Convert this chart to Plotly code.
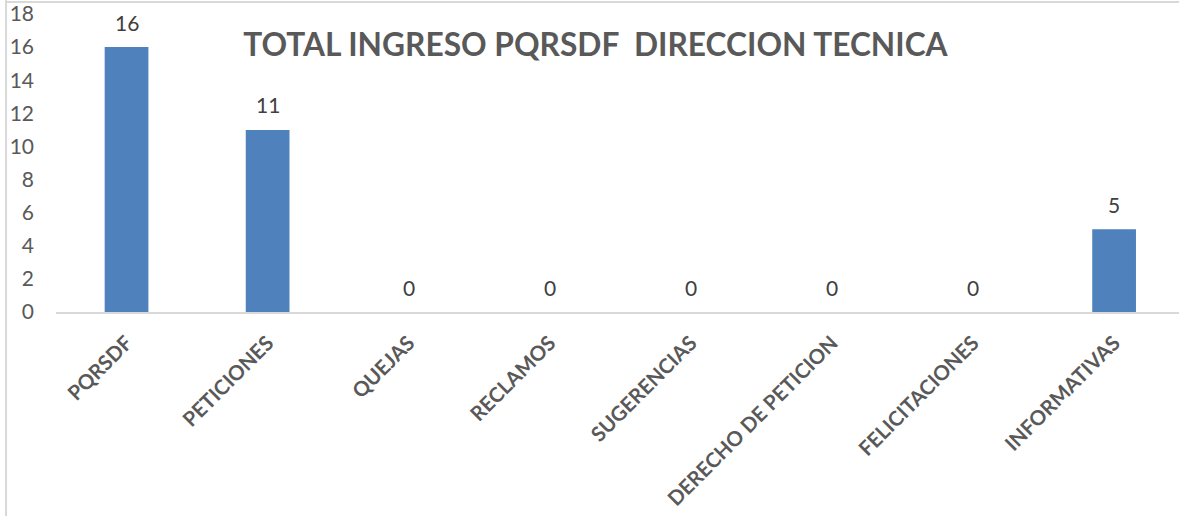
import plotly.graph_objects as go

categories = ["PQRSDF", "PETICIONES", "QUEJAS", "RECLAMOS", "SUGERENCIAS",
              "DERECHO DE PETICION", "FELICITACIONES", "INFORMATIVAS"]
values = [16, 11, 0, 0, 0, 0, 0, 5]
y_ticks = [0, 2, 4, 6, 8, 10, 12, 14, 16, 18]

FONT = "Lato"

fig = go.Figure(go.Bar(
    x=categories, y=values,
    marker=dict(color="#4F81BD", line=dict(width=0)),
    width=0.31,
    hoverinfo="x+y",
))

# data labels
for c, v in zip(categories, values):
    fig.add_annotation(x=c, y=v, text=str(v), showarrow=False,
                       yanchor="middle", yshift=25,
                       font=dict(family=FONT, size=21, color="#404040"))

fig.update_layout(
    width=1179, height=516,
    margin=dict(l=56, r=0, t=14, b=204),
    paper_bgcolor="white", plot_bgcolor="white",
    showlegend=False,
    title=dict(text="<b>TOTAL INGRESO PQRSDF  DIRECCION TECNICA</b>",
               font=dict(family=FONT, size=31.7, color="#595959"),
               x=0.505, xanchor="center", y=0.913, yanchor="middle"),
    xaxis=dict(range=[-0.5, 7.46], showgrid=False, showline=True,
               linecolor="#D9D9D9", linewidth=2, ticks="", tickangle=-45,
               tickfont=dict(family=FONT, size=20.5, color="#595959"),
               ticklabelstandoff=9),
    yaxis=dict(range=[0, 18], tickvals=y_ticks, showgrid=False, showline=False,
               zeroline=False, ticks="",
               tickfont=dict(family=FONT, size=21, color="#595959"),
               ticklabelstandoff=21),
    shapes=[
        dict(type="line", xref="paper", yref="paper", x0=-0.0445, x1=-0.0445,
             y0=-0.7, y1=1.05, line=dict(color="#D9D9D9", width=2)),
        dict(type="line", xref="paper", yref="paper", x0=-0.0445, x1=1.0,
             y0=1.0403, y1=1.0403, line=dict(color="#D9D9D9", width=2)),
    ],
)
fig.update_xaxes(tickvals=categories, ticktext=[f"<b>{c}</b>" for c in categories])

fig.write_html("out.html", config={"displayModeBar": False},
               post_script="document.body.style.margin='0';")
